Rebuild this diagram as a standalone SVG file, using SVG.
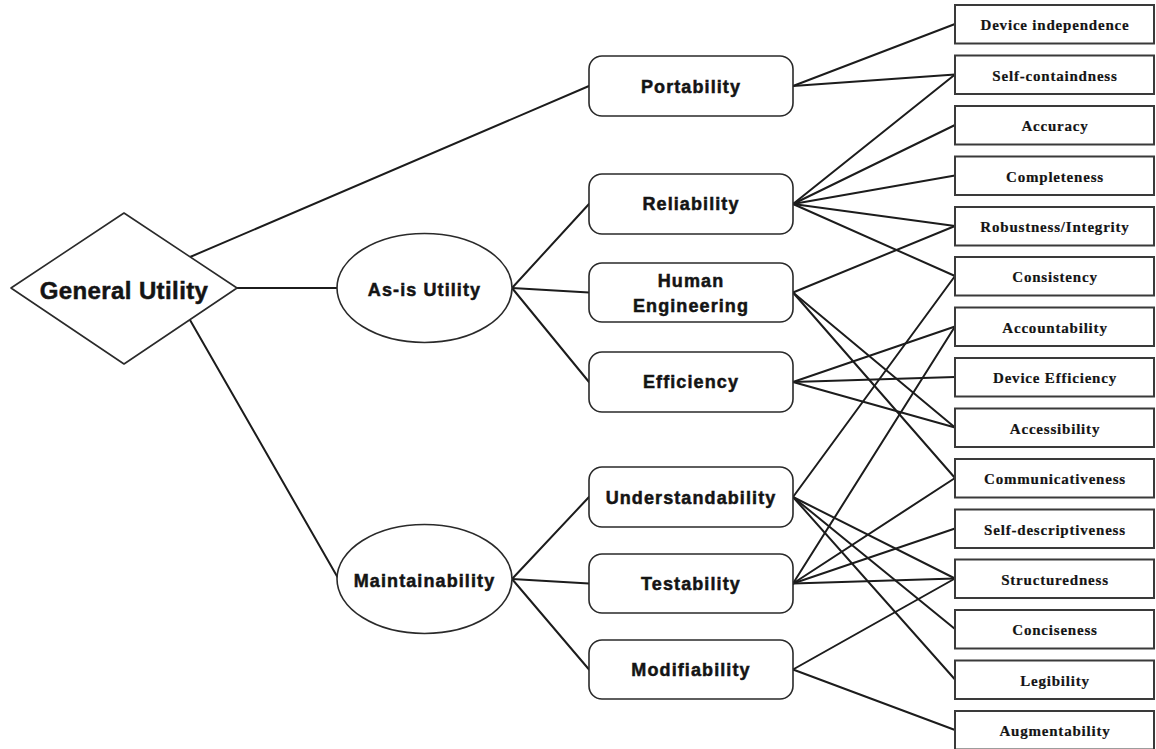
<svg xmlns="http://www.w3.org/2000/svg" width="1156" height="749" viewBox="0 0 1156 749">
  <style>
    .edge { stroke: #1c1c1c; stroke-width: 2; fill: none; stroke-linecap: round; }
    .shape { fill: #ffffff; stroke: #2a2a2a; stroke-width: 1.6; }
    .box { fill: #ffffff; stroke: #3a3a3a; stroke-width: 2; }
    .sans { font-family: "Liberation Sans", Arial, sans-serif; font-weight: bold; fill: #141414; stroke: #141414; stroke-width: 0.5; text-anchor: middle; }
    .mid { font-size: 18px; letter-spacing: 1.1px; }
    .serif { font-family: "Liberation Serif", "Times New Roman", serif; font-weight: bold; font-size: 15px; letter-spacing: 0.8px; fill: #141414; stroke: #141414; stroke-width: 0.2; text-anchor: middle; }
  </style>

  <!-- connectors -->
  <g id="connectors" class="edge">
    <!-- root to second level -->
    <line x1="190" y1="257" x2="589" y2="86"/>
    <line x1="237" y1="288" x2="338" y2="288"/>
    <line x1="190" y1="320" x2="338" y2="578"/>
    <!-- As-is Utility to its factors -->
    <line x1="512" y1="288" x2="589" y2="204"/>
    <line x1="512" y1="288" x2="589" y2="292.5"/>
    <line x1="512" y1="288" x2="589" y2="382"/>
    <!-- Maintainability to its factors -->
    <line x1="512" y1="579" x2="589" y2="497"/>
    <line x1="512" y1="579" x2="589" y2="583.5"/>
    <line x1="512" y1="579" x2="589" y2="669.5"/>
    <!-- Portability -->
    <line x1="793" y1="86" x2="955" y2="24"/>
    <line x1="793" y1="86" x2="955" y2="74.5"/>
    <!-- Reliability -->
    <line x1="793" y1="204" x2="955" y2="74.5"/>
    <line x1="793" y1="204" x2="955" y2="125"/>
    <line x1="793" y1="204" x2="955" y2="175.5"/>
    <line x1="793" y1="204" x2="955" y2="226"/>
    <line x1="793" y1="204" x2="955" y2="276"/>
    <!-- Human Engineering -->
    <line x1="793" y1="292.5" x2="955" y2="226"/>
    <line x1="793" y1="292.5" x2="955" y2="427.5"/>
    <line x1="793" y1="292.5" x2="955" y2="478"/>
    <!-- Efficiency -->
    <line x1="793" y1="382" x2="955" y2="326.5"/>
    <line x1="793" y1="382" x2="955" y2="377"/>
    <line x1="793" y1="382" x2="955" y2="427.5"/>
    <!-- Understandability -->
    <line x1="793" y1="497" x2="955" y2="276"/>
    <line x1="793" y1="497" x2="955" y2="578.5"/>
    <line x1="793" y1="497" x2="955" y2="629"/>
    <line x1="793" y1="497" x2="955" y2="679.5"/>
    <!-- Testability -->
    <line x1="793" y1="583.5" x2="955" y2="326.5"/>
    <line x1="793" y1="583.5" x2="955" y2="478"/>
    <line x1="793" y1="583.5" x2="955" y2="528.5"/>
    <line x1="793" y1="583.5" x2="955" y2="578.5"/>
    <!-- Modifiability -->
    <line x1="793" y1="669.5" x2="955" y2="578.5"/>
    <line x1="793" y1="669.5" x2="955" y2="730"/>
  </g>

  <!-- root -->
  <g id="general-utility">
    <polygon class="shape" points="11,288 124,213 237,288 124,364" stroke-linejoin="round"/>
    <text class="sans" x="124" y="299" font-size="24" letter-spacing="0.4">General Utility</text>
  </g>

  <!-- second level -->
  <g id="as-is-utility">
    <ellipse class="shape" cx="424.5" cy="288" rx="87.5" ry="54.5"/>
    <text class="sans mid" x="424.5" y="296">As-is Utility</text>
  </g>
  <g id="maintainability">
    <ellipse class="shape" cx="424.5" cy="579" rx="87.5" ry="54.5"/>
    <text class="sans mid" x="424.5" y="587">Maintainability</text>
  </g>

  <!-- factors -->
  <g id="portability">
    <rect class="shape" x="589" y="56" width="204" height="60" rx="13"/>
    <text class="sans mid" x="691" y="93">Portability</text>
  </g>
  <g id="reliability">
    <rect class="shape" x="589" y="174" width="204" height="60" rx="13"/>
    <text class="sans mid" x="691" y="210">Reliability</text>
  </g>
  <g id="human-engineering">
    <rect class="shape" x="589" y="263" width="204" height="59" rx="13"/>
    <text class="sans mid" x="691" y="287">Human</text>
    <text class="sans mid" x="691" y="312">Engineering</text>
  </g>
  <g id="efficiency">
    <rect class="shape" x="589" y="352" width="204" height="60" rx="13"/>
    <text class="sans mid" x="691" y="388">Efficiency</text>
  </g>
  <g id="understandability">
    <rect class="shape" x="589" y="467" width="204" height="60" rx="13"/>
    <text class="sans mid" x="691" y="504">Understandability</text>
  </g>
  <g id="testability">
    <rect class="shape" x="589" y="554" width="204" height="59" rx="13"/>
    <text class="sans mid" x="691" y="590">Testability</text>
  </g>
  <g id="modifiability">
    <rect class="shape" x="589" y="640" width="204" height="59" rx="13"/>
    <text class="sans mid" x="691" y="676">Modifiability</text>
  </g>

  <!-- criteria -->
  <g id="device-independence">
    <rect class="box" x="955" y="5" width="199" height="38.5"/>
    <text class="serif" x="1055" y="30">Device independence</text>
  </g>
  <g id="self-containdness">
    <rect class="box" x="955" y="55.5" width="199" height="38.5"/>
    <text class="serif" x="1055" y="80.5">Self-containdness</text>
  </g>
  <g id="accuracy">
    <rect class="box" x="955" y="106" width="199" height="38.5"/>
    <text class="serif" x="1055" y="131">Accuracy</text>
  </g>
  <g id="completeness">
    <rect class="box" x="955" y="156.5" width="199" height="38.5"/>
    <text class="serif" x="1055" y="181.5">Completeness</text>
  </g>
  <g id="robustness-integrity">
    <rect class="box" x="955" y="207" width="199" height="38.5"/>
    <text class="serif" x="1055" y="232">Robustness/Integrity</text>
  </g>
  <g id="consistency">
    <rect class="box" x="955" y="257" width="199" height="38.5"/>
    <text class="serif" x="1055" y="282">Consistency</text>
  </g>
  <g id="accountability">
    <rect class="box" x="955" y="307.5" width="199" height="38.5"/>
    <text class="serif" x="1055" y="332.5">Accountability</text>
  </g>
  <g id="device-efficiency">
    <rect class="box" x="955" y="358" width="199" height="38.5"/>
    <text class="serif" x="1055" y="383">Device Efficiency</text>
  </g>
  <g id="accessibility">
    <rect class="box" x="955" y="408.5" width="199" height="38.5"/>
    <text class="serif" x="1055" y="433.5">Accessibility</text>
  </g>
  <g id="communicativeness">
    <rect class="box" x="955" y="459" width="199" height="38.5"/>
    <text class="serif" x="1055" y="484">Communicativeness</text>
  </g>
  <g id="self-descriptiveness">
    <rect class="box" x="955" y="509.5" width="199" height="38.5"/>
    <text class="serif" x="1055" y="534.5">Self-descriptiveness</text>
  </g>
  <g id="structuredness">
    <rect class="box" x="955" y="559.5" width="199" height="38.5"/>
    <text class="serif" x="1055" y="584.5">Structuredness</text>
  </g>
  <g id="conciseness">
    <rect class="box" x="955" y="610" width="199" height="38.5"/>
    <text class="serif" x="1055" y="635">Conciseness</text>
  </g>
  <g id="legibility">
    <rect class="box" x="955" y="660.5" width="199" height="38.5"/>
    <text class="serif" x="1055" y="685.5">Legibility</text>
  </g>
  <g id="augmentability">
    <rect class="box" x="955" y="711" width="199" height="38.5"/>
    <text class="serif" x="1055" y="736">Augmentability</text>
  </g>
</svg>
